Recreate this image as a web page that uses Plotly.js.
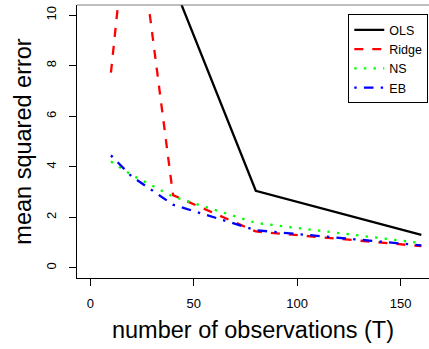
<!DOCTYPE html>
<html>
<head>
<meta charset="utf-8">
<script src="https://cdn.plot.ly/plotly-3.0.1.min.js"></script>
<style>
html,body{margin:0;padding:0;background:#fff;}
#chart{width:429px;height:349px;}
</style>
</head>
<body>
<div id="chart"></div>
<script>
// Data
var T = [10, 20, 40, 80, 160];
var seriesNames = ["OLS", "Ridge", "NS", "EB"];
var mseOLS   = [null, null, 11.25, 3.05, 1.31];
var mseRidge = [7.72, 15.6, 2.88, 1.44, 0.86];
var mseNS    = [4.21, 3.68, 2.82, 1.78, 0.98];
var mseEB    = [4.45, 3.62, 2.50, 1.49, 0.89];
var xTicks = [0, 50, 100, 150];
var yTicks = [0, 2, 4, 6, 8, 10];

var FONT = "Liberation Sans, Arial, Helvetica, sans-serif";
var lw = 2.3;

var traces = [
  {x: T, y: mseOLS, name: seriesNames[0], mode: "lines",
   line: {color: "#000000", width: lw, dash: "solid"}},
  {x: T, y: mseRidge, name: seriesNames[1], mode: "lines",
   line: {color: "#ff0000", width: lw, dash: "9px,9px"}},
  {x: T, y: mseNS, name: seriesNames[2], mode: "lines",
   line: {color: "#00ff00", width: lw, dash: "2.4px,7.2px"}},
  {x: T, y: mseEB, name: seriesNames[3], mode: "lines",
   line: {color: "#0000ff", width: lw, dash: "2.4px,7.2px,9.6px,7.2px"}}
];

var layout = {
  width: 429, height: 349,
  margin: {l: 77, r: 0, t: 5, b: 71, pad: 0},
  paper_bgcolor: "#ffffff", plot_bgcolor: "#ffffff",
  font: {family: FONT, color: "#000000", size: 13},
  showlegend: true,
  legend: {
    x: 0.998, xanchor: "right", y: 0.966, yanchor: "top",
    bgcolor: "#ffffff", bordercolor: "#000000", borderwidth: 1,
    font: {family: FONT, size: 12.5, color: "#000000"},
    itemwidth: 30, tracegroupgap: 0
  },
  xaxis: {
    range: [-6.4, 163.7], tickvals: xTicks, ticktext: xTicks.map(String),
    ticks: "outside", ticklen: 7, tickwidth: 1, tickcolor: "#000",
    ticklabelstandoff: 6,
    showline: true, linecolor: "#000", linewidth: 1, mirror: false,
    showgrid: false, zeroline: false,
    tickfont: {family: FONT, size: 13},
    title: {text: "number of observations (T)", font: {family: FONT, size: 23.5}, standoff: 11}
  },
  yaxis: {
    range: [-0.4, 10.4], tickvals: yTicks, ticktext: yTicks.map(String),
    ticks: "outside", ticklen: 7, tickwidth: 1, tickcolor: "#000",
    tickangle: -90, ticklabelstandoff: 8,
    showline: true, linecolor: "#000", linewidth: 1, mirror: false,
    showgrid: false, zeroline: false,
    tickfont: {family: FONT, size: 13},
    title: {text: "mean squared error", font: {family: FONT, size: 23.5}, standoff: 5}
  },
  shapes: [
    {type: "line", xref: "paper", yref: "paper", x0: 0, x1: 1, y0: 1, y1: 1,
     line: {color: "#808080", width: 1}}
  ]
};

Plotly.newPlot("chart", traces, layout, {staticPlot: true, displayModeBar: false});
</script>
</body>
</html>
